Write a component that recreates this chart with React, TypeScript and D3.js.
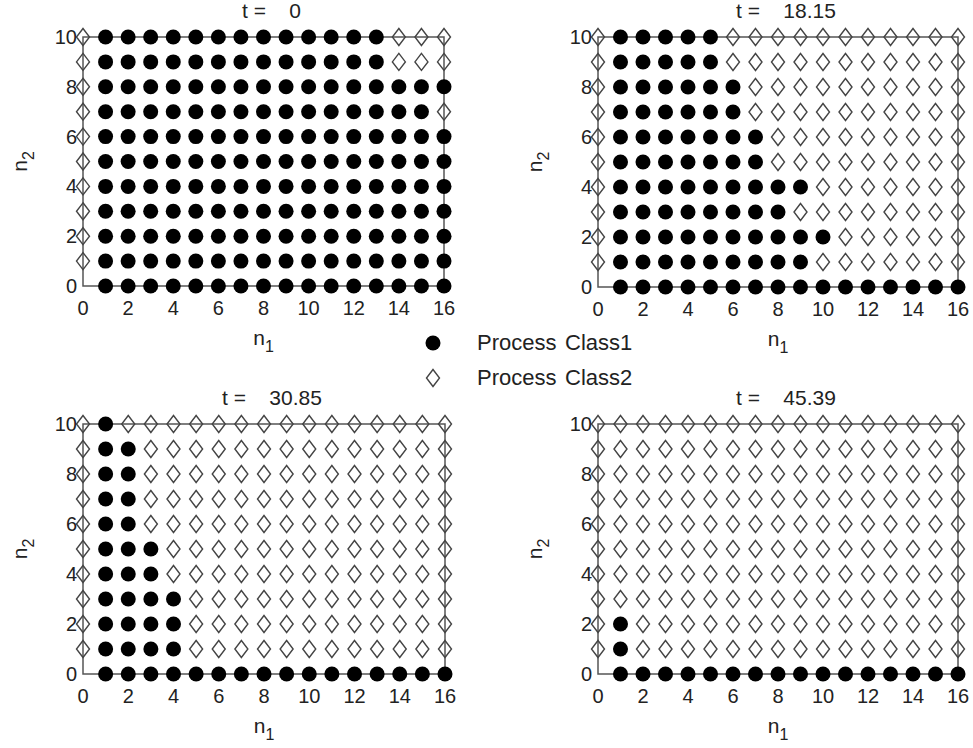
import React from 'react';
import * as d3 from 'd3';

// rows n2 = 0..10 : largest n1 that still holds a Class1 (filled) marker
const limitT0 = [16, 16, 16, 16, 16, 16, 16, 15, 16, 13, 13];
const limitT18 = [16, 9, 10, 8, 9, 7, 7, 6, 6, 5, 5];
const limitT30 = [16, 4, 4, 4, 3, 3, 2, 2, 2, 2, 1];
const limitT45 = [16, 1, 1, 0, 0, 0, 0, 0, 0, 0, 0];

const panelTimes = ['0', '18.15', '30.85', '45.39'];
const n1Values = d3.range(0, 17);
const n2Values = d3.range(0, 11);
const xTicks = [0, 2, 4, 6, 8, 10, 12, 14, 16];
const yTicks = [0, 2, 4, 6, 8, 10];
const legendLabels = ['Class1', 'Class2'];

const FONT = '"Liberation Sans", Arial, Helvetica, sans-serif';
const TXT = '#222';

const diamond = (cx: number, cy: number, w = 6.5, h = 8.5) =>
  `M${cx},${cy - h}L${cx + w},${cy}L${cx},${cy + h}L${cx - w},${cy}Z`;

function Panel({ limits, time, left, right, top, bottom }: any) {
  const x = d3.scaleLinear().domain([0, 16]).range([left, right]);
  const y = d3.scaleLinear().domain([0, 10]).range([bottom, top]);
  const cx = (left + right) / 2;
  const cy = (top + bottom) / 2;

  const points: { n1: number; n2: number; cls: number }[] = [];
  n2Values.forEach(n2 => {
    n1Values.forEach(n1 => {
      if (n1 === 0 && n2 === 0) return;
      const cls = n1 >= 1 && n1 <= limits[n2] ? 1 : 2;
      points.push({ n1, n2, cls });
    });
  });

  return (
    <g>
      <rect x={x(0)} y={y(10)} width={x(16) - x(0)} height={y(0) - y(10)}
        fill="none" stroke="#555" strokeWidth={1.5} />
      {points.filter(p => p.cls === 2).map(p => (
        <path key={`d${p.n1}-${p.n2}`} d={diamond(x(p.n1), y(p.n2))}
          fill="none" stroke="#444" strokeWidth={1.4} />
      ))}
      {points.filter(p => p.cls === 1).map(p => (
        <circle key={`c${p.n1}-${p.n2}`} cx={x(p.n1)} cy={y(p.n2)} r={7.5} fill="#000" />
      ))}
      {xTicks.map(t => (
        <text key={`x${t}`} x={x(t)} y={y(0) + 29} textAnchor="middle"
          fontSize={20} fill={TXT}>{t}</text>
      ))}
      {yTicks.map(t => (
        <text key={`y${t}`} x={x(0) - 6} y={y(t)} textAnchor="end"
          dominantBaseline="central" fontSize={20} fill={TXT}>{t}</text>
      ))}
      <text x={cx + 8} y={top - 19} textAnchor="middle" fontSize={21} fill={TXT}
        style={{ whiteSpace: 'pre' }}>{`t =    ${time}`}</text>
      <text x={cx} y={bottom + 59} textAnchor="middle" fontSize={21} fill={TXT}>
        n<tspan dy={7} fontSize={16}>1</tspan>
      </text>
      <text transform={`translate(${left - 56},${cy}) rotate(-90)`} textAnchor="middle"
        fontSize={21} fill={TXT}>
        n<tspan dy={7} fontSize={16}>2</tspan>
      </text>
    </g>
  );
}

export default function App() {
  const panels = [
    { limits: limitT0, time: panelTimes[0], left: 83, right: 444, top: 37, bottom: 286 },
    { limits: limitT18, time: panelTimes[1], left: 598, right: 958, top: 37, bottom: 287 },
    { limits: limitT30, time: panelTimes[2], left: 83, right: 445, top: 424, bottom: 674 },
    { limits: limitT45, time: panelTimes[3], left: 598, right: 958, top: 424, bottom: 674 },
  ];

  return (
    <svg width={973} height={748} fontFamily={FONT}
      style={{ position: 'absolute', left: 0, top: 0, background: '#fff' }}>
      <rect width={973} height={748} fill="#fff" />
      {panels.map((p, i) => <Panel key={i} {...p} />)}
      {/* legend */}
      <circle cx={433} cy={343} r={7.5} fill="#000" />
      <path d={diamond(433, 378)} fill="none" stroke="#444" strokeWidth={1.4} />
      {legendLabels.map((l, i) => (
        <text key={l} y={350 + i * 35} fontSize={22} fill={TXT}>
          <tspan x={477}>Process</tspan>
          <tspan x={565}>{l}</tspan>
        </text>
      ))}
    </svg>
  );
}
